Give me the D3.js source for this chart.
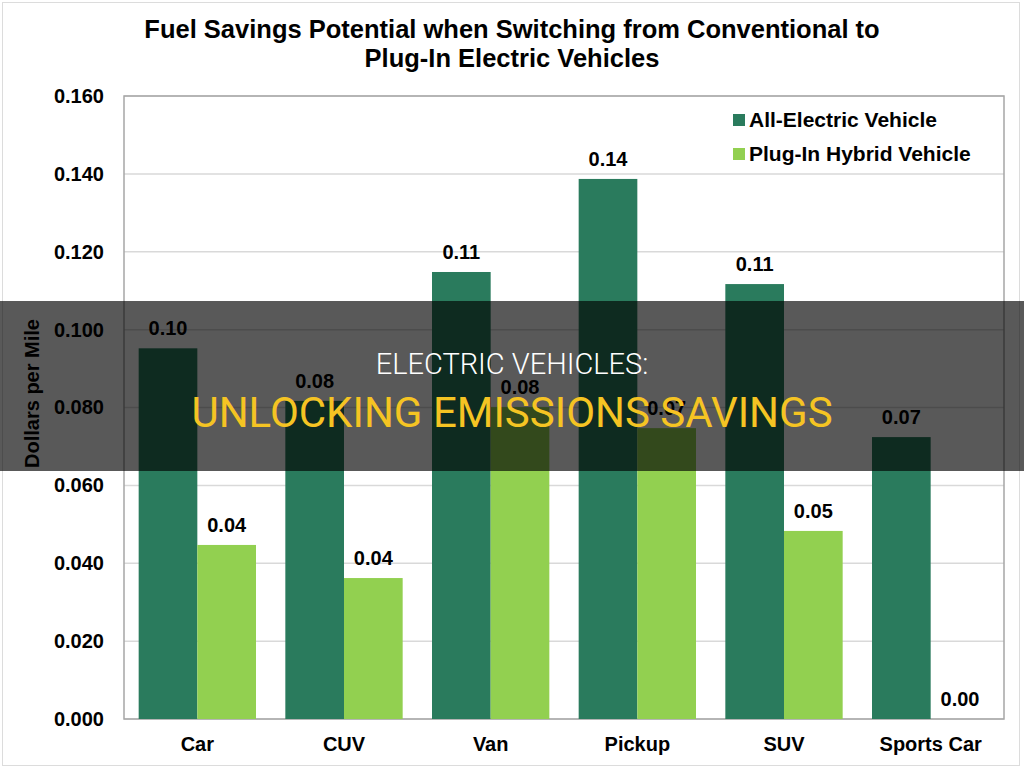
<!DOCTYPE html>
<html>
<head>
<meta charset="utf-8">
<script src="https://cdn.jsdelivr.net/npm/d3@7"></script>
<style>
  body { margin: 0; background: #fff; }
  svg text { font-family: Arial, "Liberation Sans", sans-serif; }
</style>
</head>
<body>
<script>
var categories = ['Car', 'CUV', 'Van', 'Pickup', 'SUV', 'Sports Car'];
var seriesNames = ['All-Electric Vehicle', 'Plug-In Hybrid Vehicle'];
var allElectric = [0.0952, 0.0817, 0.1148, 0.1387, 0.1117, 0.0724];
var plugInHybrid = [0.0447, 0.0362, 0.0801, 0.0747, 0.0483, 0.0];
var yTicks = [0, 0.02, 0.04, 0.06, 0.08, 0.10, 0.12, 0.14, 0.16];
var colors = ['#2a7b5d', '#92d050'];

var plotLeft = 124, plotRight = 1004, plotTop = 96, plotBottom = 719;

var svg = d3.select('body')
  .append('svg')
  .attr('width', 1024)
  .attr('height', 768);

// outer chart frame
svg.append('rect')
  .attr('x', 2.5).attr('y', 2.5)
  .attr('width', 1017).attr('height', 763)
  .attr('fill', '#fff')
  .attr('stroke', '#dcdcdc');

var x0 = d3.scaleBand()
  .domain(categories)
  .range([plotLeft, plotRight])
  .paddingInner(0.2)
  .paddingOuter(0.1);

var x1 = d3.scaleBand()
  .domain(seriesNames)
  .range([0, x0.bandwidth()]);

var y = d3.scaleLinear()
  .domain([0, 0.16])
  .range([plotBottom, plotTop]);

var data = categories.map(function(c, i) {
  return { cat: c, values: [allElectric[i], plugInHybrid[i]] };
});

// gridlines
svg.append('g')
  .selectAll('line')
  .data(yTicks)
  .enter()
  .append('line')
  .attr('x1', plotLeft).attr('x2', plotRight)
  .attr('y1', function(d) { return y(d); })
  .attr('y2', function(d) { return y(d); })
  .attr('stroke', '#d9d9d9')
  .attr('stroke-width', 1.5);

// plot border
svg.append('rect')
  .attr('x', plotLeft).attr('y', plotTop)
  .attr('width', plotRight - plotLeft).attr('height', plotBottom - plotTop)
  .attr('fill', 'none')
  .attr('stroke', '#a6a6a6')
  .attr('stroke-width', 1.5);

// y tick labels
var yAxis = svg.append('g')
  .attr('transform', 'translate(' + (plotLeft - 20) + ',0)')
  .call(d3.axisLeft(y).tickValues(yTicks).tickFormat(d3.format('.3f')).tickSize(0));
yAxis.select('.domain').remove();
yAxis.selectAll('text')
  .attr('x', 0)
  .attr('font-size', 20)
  .attr('font-weight', 'bold')
  .attr('fill', '#000')
  .style('font-family', 'Arial, "Liberation Sans", sans-serif');

// x category labels
var xAxis = svg.append('g')
  .attr('transform', 'translate(0,' + plotBottom + ')')
  .call(d3.axisBottom(x0).tickSize(0));
xAxis.select('.domain').remove();
xAxis.selectAll('text')
  .attr('y', 32)
  .attr('dy', 0)
  .attr('font-size', 20)
  .attr('font-weight', 'bold')
  .attr('fill', '#000')
  .style('font-family', 'Arial, "Liberation Sans", sans-serif');

// bars
var groups = svg.append('g')
  .selectAll('g')
  .data(data)
  .enter()
  .append('g')
  .attr('transform', function(d) { return 'translate(' + x0(d.cat) + ',0)'; });

groups.selectAll('rect')
  .data(function(d) { return d.values; })
  .enter()
  .append('rect')
  .attr('x', function(d, i) { return x1(seriesNames[i]); })
  .attr('width', x1.bandwidth())
  .attr('y', function(d) { return y(d); })
  .attr('height', function(d) { return plotBottom - y(d); })
  .attr('fill', function(d, i) { return colors[i]; });

groups.selectAll('text')
  .data(function(d) { return d.values; })
  .enter()
  .append('text')
  .attr('x', function(d, i) { return x1(seriesNames[i]) + x1.bandwidth() / 2; })
  .attr('y', function(d) { return y(d) - 13; })
  .attr('text-anchor', 'middle')
  .attr('font-size', 20)
  .attr('font-weight', 'bold')
  .text(function(d) { return d3.format('.2f')(d); });

// y axis title
svg.append('text')
  .attr('transform', 'translate(39,' + ((plotTop + plotBottom) / 2 - 14) + ') rotate(-90)')
  .attr('text-anchor', 'middle')
  .attr('font-size', 20)
  .attr('font-weight', 'bold')
  .text('Dollars per Mile');

// title
svg.append('text')
  .attr('x', 512).attr('y', 38)
  .attr('text-anchor', 'middle')
  .attr('font-size', 25.5)
  .attr('font-weight', 'bold')
  .text('Fuel Savings Potential when Switching from Conventional to');
svg.append('text')
  .attr('x', 512).attr('y', 67)
  .attr('text-anchor', 'middle')
  .attr('font-size', 25.5)
  .attr('font-weight', 'bold')
  .text('Plug-In Electric Vehicles');

// legend
var legend = svg.append('g')
  .selectAll('g')
  .data(seriesNames)
  .enter()
  .append('g')
  .attr('transform', function(d, i) { return 'translate(733,' + (120 + i * 34) + ')'; });
legend.append('rect')
  .attr('x', 0).attr('y', -6)
  .attr('width', 12).attr('height', 12)
  .attr('fill', function(d, i) { return colors[i]; });
legend.append('text')
  .attr('x', 16).attr('y', 7)
  .attr('font-size', 21)
  .attr('font-weight', 'bold')
  .text(function(d) { return d; });

// dark banner over the chart
svg.append('rect')
  .attr('x', 0).attr('y', 301)
  .attr('width', 1024).attr('height', 170)
  .attr('fill', '#000')
  .attr('fill-opacity', 0.65);

svg.append('text')
  .attr('x', 512).attr('y', 374)
  .attr('text-anchor', 'middle')
  .attr('font-size', 29)
  .attr('font-weight', 300)
  .attr('fill', '#fff')
  .style('font-family', 'Roboto, sans-serif')
  .text('ELECTRIC VEHICLES:');
svg.append('text')
  .attr('x', 512).attr('y', 427)
  .attr('text-anchor', 'middle')
  .attr('font-size', 42)
  .attr('fill', '#f5c423')
  .style('font-family', 'Roboto, sans-serif')
  .text('UNLOCKING EMISSIONS SAVINGS');
</script>
</body>
</html>
